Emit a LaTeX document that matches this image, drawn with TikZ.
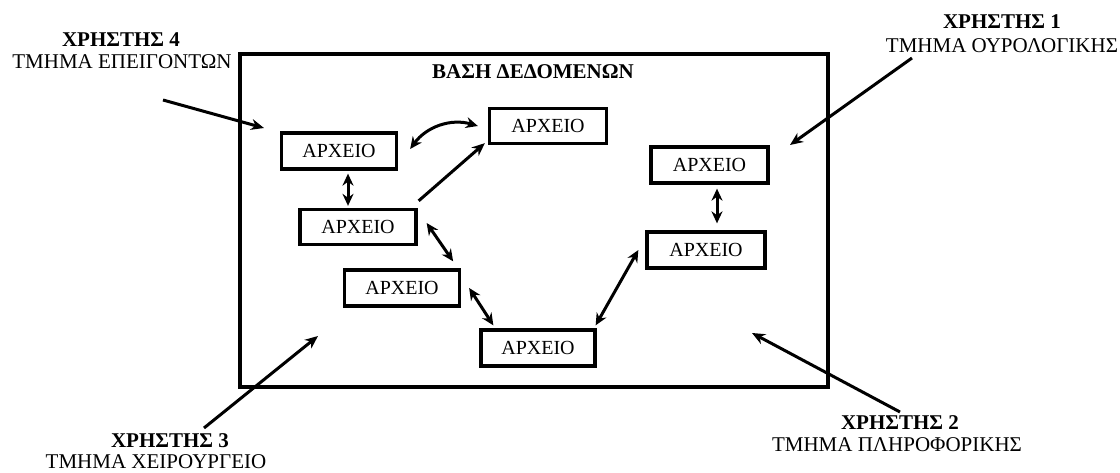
\documentclass[tikz,border=0pt]{standalone}
\usepackage{fontspec}
\setmainfont{Liberation Serif}
\usetikzlibrary{arrows.meta}
\begin{document}
\begin{tikzpicture}[x=1pt,y=-1pt,
  file/.style={draw, line width=3.3pt, inner sep=0pt, font=\fontsize{20}{20}\selectfont},
  link/.style={line width=3pt, {Stealth[length=12pt,width=11pt]}-{Stealth[length=12pt,width=11pt]}},
  arr/.style={line width=3pt, -{Stealth[length=13pt,width=11pt]}},
  title/.style={font=\fontsize{21}{21}\selectfont\bfseries, inner sep=0pt},
  dept/.style={font=\fontsize{21}{21}\selectfont, inner sep=0pt}
]
\useasboundingbox (0,0) rectangle (1120,473);
\fill[white] (0,0) rectangle (1120,473);

\node[draw, line width=3.3pt, minimum width=588pt, minimum height=333pt, inner sep=0pt] (db) at (534,220.5) {};
\node[title] (dbt) at (533,72) {ΒΑΣΗ ΔΕΔΟΜΕΝΩΝ};

\node[file, minimum width=115pt, minimum height=36pt] (A) at (339,151) {ΑΡΧΕΙΟ};
\node[file, minimum width=117pt, minimum height=35pt] (B) at (548,126) {ΑΡΧΕΙΟ};
\node[file, minimum width=116pt, minimum height=35pt] (C) at (358,227) {ΑΡΧΕΙΟ};
\node[file, minimum width=115pt, minimum height=36pt] (D) at (402,288) {ΑΡΧΕΙΟ};
\node[file, minimum width=114pt, minimum height=36pt] (E) at (538,348) {ΑΡΧΕΙΟ};
\node[file, minimum width=117pt, minimum height=36pt] (F) at (709.5,165) {ΑΡΧΕΙΟ};
\node[file, minimum width=118pt, minimum height=36pt] (G) at (706,250) {ΑΡΧΕΙΟ};

\draw[link] ([shift={(9pt,-3pt)}]A.south) -- ([shift={(-10pt,2pt)}]C.north);
\draw[link] ([xshift=12pt,yshift=2pt]A.east) to[bend left=35] ([xshift=-10pt]B.west);
\draw[arr] ([shift={(1pt,7pt)}]C.north east) -- ([shift={(-3pt,2pt)}]B.south west);
\draw[link] ([shift={(9pt,4pt)}]C.east) -- ([shift={(-8pt,7pt)}]D.north east);
\draw[link] ([xshift=8pt]D.east) -- ([shift={(14pt,3pt)}]E.north west);
\draw[link] ([shift={(-1pt,3pt)}]E.north east) -- ([xshift=-7pt]G.west);
\draw[link] ([shift={(7.5pt,-4pt)}]F.south) -- ([shift={(11pt,7pt)}]G.north);

\node[title] (u4a) at (121,40) {ΧΡΗΣΤΗΣ 4};
\node[dept] (u4b) at (122,62) {ΤΜΗΜΑ ΕΠΕΙΓΟΝΤΩΝ};
\node[title] (u1a) at (1002,22) {ΧΡΗΣΤΗΣ 1};
\node[dept] (u1b) at (1002,46) {ΤΜΗΜΑ ΟΥΡΟΛΟΓΙΚΗΣ};
\node[title] (u3a) at (170,441) {ΧΡΗΣΤΗΣ 3};
\node[dept] (u3b) at (156,462) {ΤΜΗΜΑ ΧΕΙΡΟΥΡΓΕΙΟ};
\node[title] (u2a) at (900,423) {ΧΡΗΣΤΗΣ 2};
\node[dept] (u2b) at (897,445) {ΤΜΗΜΑ ΠΛΗΡΟΦΟΡΙΚΗΣ};

\coordinate (s4) at (163,100); \coordinate (t4) at (264,128);
\coordinate (s1) at (912,58);  \coordinate (t1) at (790,145);
\coordinate (s3) at (204,428); \coordinate (t3) at (318,336);
\coordinate (s2) at (900,412); \coordinate (t2) at (752,333);
\draw[arr] (s4) -- (t4);
\draw[arr] (s1) -- (t1);
\draw[arr] (s3) -- (t3);
\draw[arr] (s2) -- (t2);
\end{tikzpicture}
\end{document}
